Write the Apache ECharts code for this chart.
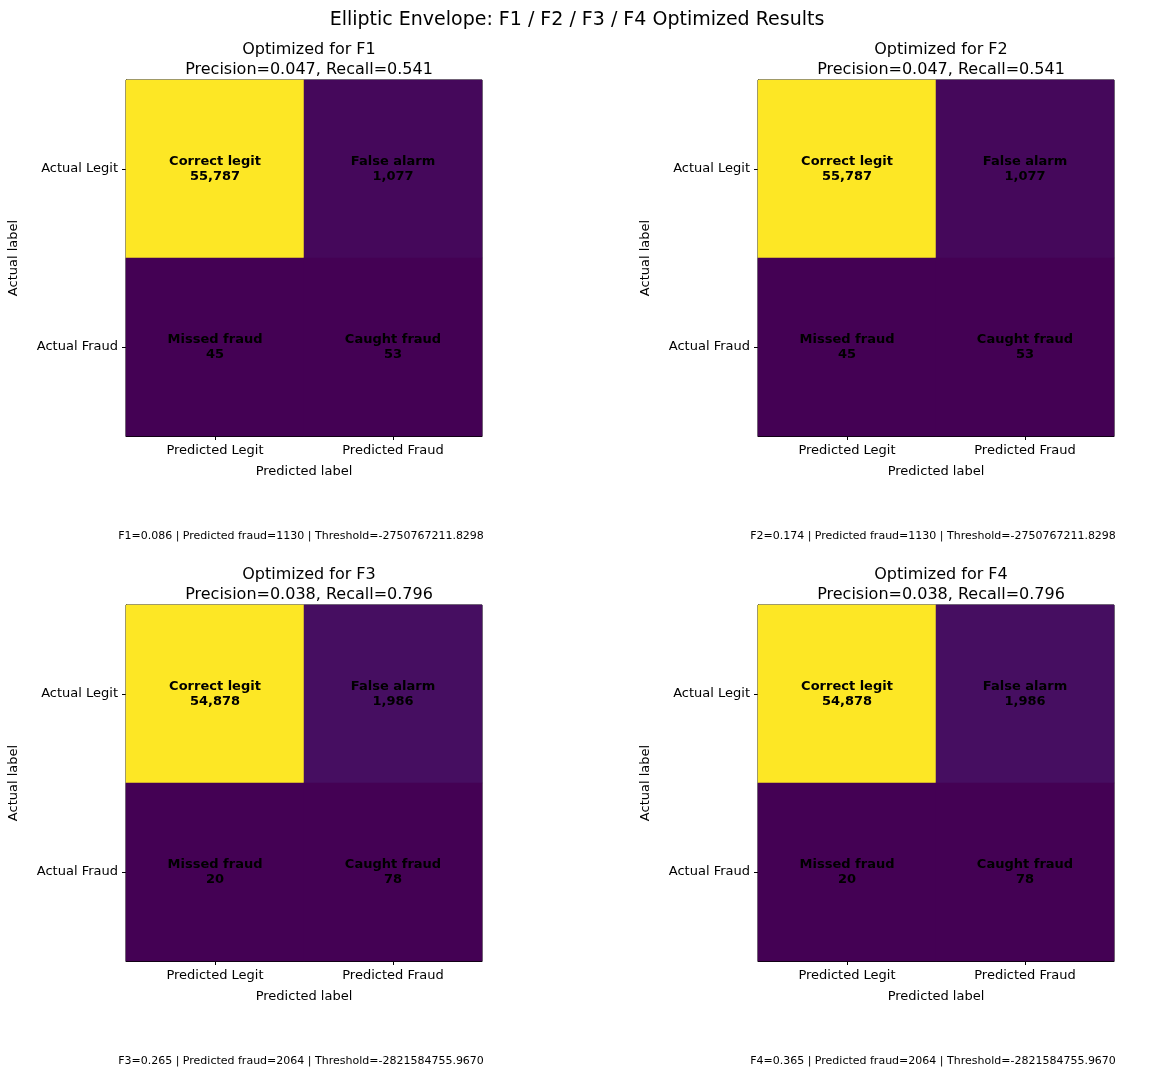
<!DOCTYPE html>
<html><head><meta charset="utf-8">
<script src="https://cdn.jsdelivr.net/npm/echarts@6/dist/echarts.min.js"></script>
<style>html,body{margin:0;padding:0;background:#fff}#c{width:1154px;height:1074px}</style>
</head><body><div id="c"></div>
<script>
const xCats = ['Predicted Legit', 'Predicted Fraud'];
const yCats = ['Actual Legit', 'Actual Fraud'];
const cellNames = [['Correct legit', 'False alarm'], ['Missed fraud', 'Caught fraud']];
const panelTitles = ['Optimized for F1', 'Optimized for F2', 'Optimized for F3', 'Optimized for F4'];
const precision = ['0.047', '0.047', '0.038', '0.038'];
const recall = ['0.541', '0.541', '0.796', '0.796'];
// [TN, FP, FN, TP]
const matrices = [
  [55787, 1077, 45, 53],
  [55787, 1077, 45, 53],
  [54878, 1986, 20, 78],
  [54878, 1986, 20, 78]
];
const footers = [
  'F1=0.086 | Predicted fraud=1130 | Threshold=-2750767211.8298',
  'F2=0.174 | Predicted fraud=1130 | Threshold=-2750767211.8298',
  'F3=0.265 | Predicted fraud=2064 | Threshold=-2821584755.9670',
  'F4=0.365 | Predicted fraud=2064 | Threshold=-2821584755.9670'
];
const viridis = ['#440154','#481a6c','#472f7d','#414487','#39568c','#31688e','#2a788e','#23888e','#1f988b','#22a884','#35b779','#54c568','#7ad151','#a5db36','#d2e21b','#fde725'];
const F = 'DejaVu Sans';
const lefts = [126, 758], tops = [80, 605], S = 356;
const grids = [], xAxes = [], yAxes = [], series = [], vms = [], titles = [];
titles.push({text: 'Elliptic Envelope: F1 / F2 / F3 / F4 Optimized Results', left: 'center', top: 6,
  textStyle: {fontFamily: F, fontSize: 19, fontWeight: 'normal', color: '#000'}});
for (let i = 0; i < 4; i++) {
  const L = lefts[i % 2], T = tops[Math.floor(i / 2)];
  grids.push({left: L, top: T, width: S, height: S, show: true, borderColor: '#000', borderWidth: 1});
  xAxes.push({type: 'category', data: xCats, gridIndex: i, position: 'bottom',
    name: 'Predicted label', nameLocation: 'middle', nameGap: 29,
    nameTextStyle: {fontFamily: F, fontSize: 13, color: '#000'},
    axisLine: {show: true, lineStyle: {color: '#000'}},
    axisTick: {show: true, alignWithLabel: true, length: 4, lineStyle: {color: '#000'}},
    axisLabel: {fontFamily: F, fontSize: 13, color: '#000', margin: 8},
    splitLine: {show: false}, splitArea: {show: false}});
  yAxes.push({type: 'category', data: yCats, gridIndex: i, inverse: true,
    name: 'Actual label', nameLocation: 'middle', nameGap: 106, nameRotate: 90,
    nameTextStyle: {fontFamily: F, fontSize: 13, color: '#000'},
    axisLine: {show: true, lineStyle: {color: '#000'}},
    axisTick: {show: true, alignWithLabel: true, length: 4, lineStyle: {color: '#000'}},
    axisLabel: {fontFamily: F, fontSize: 13, color: '#000', margin: 8},
    splitLine: {show: false}, splitArea: {show: false}});
  const m = matrices[i];
  const data = [[0, 0, m[0]], [1, 0, m[1]], [0, 1, m[2]], [1, 1, m[3]]];
  series.push({type: 'heatmap', xAxisIndex: i, yAxisIndex: i, data: data,
    label: {show: true, fontFamily: F, fontSize: 13, fontWeight: 'bold', color: '#000', lineHeight: 15,
      formatter: p => cellNames[p.data[1]][p.data[0]] + '\n' + p.data[2].toLocaleString('en-US')},
    itemStyle: {borderWidth: 0}, emphasis: {disabled: true}});
  vms.push({type: 'continuous', show: false, seriesIndex: i, dimension: 2,
    min: Math.min(...m), max: Math.max(...m), inRange: {color: viridis}});
  titles.push({text: panelTitles[i] + '\nPrecision=' + precision[i] + ', Recall=' + recall[i],
    left: L + S / 2, top: T - 45, textAlign: 'center',
    textStyle: {fontFamily: F, fontSize: 16, fontWeight: 'normal', color: '#000', lineHeight: 20}});
  titles.push({text: footers[i], left: L + S / 2 - 8, top: T + 446, textAlign: 'center',
    textStyle: {fontFamily: F, fontSize: 11, fontWeight: 'normal', color: '#000'}});
}
const chart = echarts.init(document.getElementById('c'));
chart.setOption({animation: false, title: titles, grid: grids, xAxis: xAxes, yAxis: yAxes, visualMap: vms, series: series});
</script></body></html>
